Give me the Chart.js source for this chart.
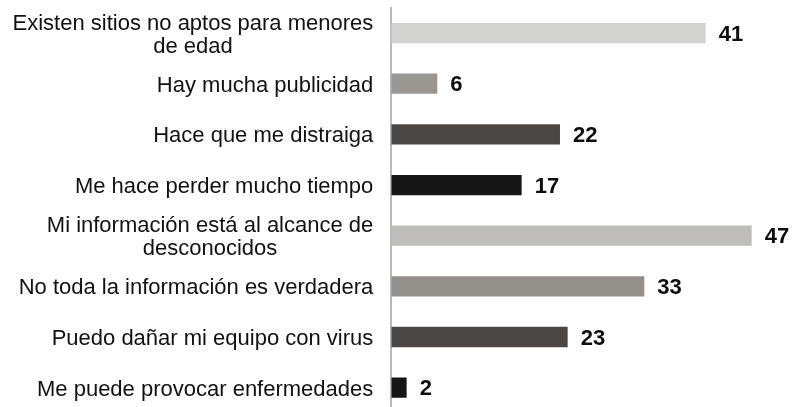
<!DOCTYPE html>
<html>
<head>
<meta charset="utf-8">
<script src="https://cdn.jsdelivr.net/npm/chart.js@4"></script>
<style>
  html, body { margin: 0; padding: 0; background: #fff; overflow: hidden; }
  #wrap { width: 793px; height: 413px; }
</style>
</head>
<body>
<div id="wrap"><canvas id="riesgos"></canvas></div>
<script>
// Data
const categories = [
  ['Existen sitios no aptos para menores', 'de edad'],
  'Hay mucha publicidad',
  'Hace que me distraiga',
  'Me hace perder mucho tiempo',
  ['Mi información está al alcance de', 'desconocidos'],
  'No toda la información es verdadera',
  'Puedo dañar mi equipo con virus',
  'Me puede provocar enfermedades'
];
const values = [41, 6, 22, 17, 47, 33, 23, 2];
const barColors = ['#d2d2d0', '#9a9792', '#4b4744', '#161616', '#bebdb9', '#93908b', '#4b4744', '#161616'];

const FONT = "'Liberation Sans', Arial, sans-serif";

// Draws the category labels (multi-line ones centered inside their block)
// and the bold values at the end of each bar
const labelPlugin = {
  id: 'labelPlugin',
  afterDatasetsDraw(chart) {
    const ctx = chart.ctx;
    const yScale = chart.scales.y;
    const bars = chart.getDatasetMeta(0).data;
    ctx.save();
    ctx.textBaseline = 'middle';

    ctx.font = '22px ' + FONT;
    ctx.fillStyle = '#111';
    ctx.textAlign = 'center';
    categories.forEach((cat, i) => {
      const lines = Array.isArray(cat) ? cat : [cat];
      const widths = lines.map(l => ctx.measureText(l).width);
      const blockW = Math.max(...widths);
      const right = yScale.right - 18;
      const cy = yScale.getPixelForValue(i) + 2;
      const lh = 23;
      lines.forEach((l, j) => {
        const y = cy + (j - (lines.length - 1) / 2) * lh;
        ctx.fillText(l, right - blockW / 2, y);
      });
    });

    ctx.font = 'bold 22px ' + FONT;
    ctx.fillStyle = '#0d0d0d';
    ctx.textAlign = 'left';
    bars.forEach((bar, i) => {
      ctx.fillText(String(values[i]), bar.x + 13, bar.y + 1.5);
    });
    ctx.restore();
  }
};

window.onload = function () {
  new Chart(document.getElementById('riesgos').getContext('2d'), {
    type: 'bar',
    data: {
      labels: categories,
      datasets: [{
        data: values,
        backgroundColor: barColors,
        borderWidth: 0,
        barPercentage: 0.4,
        categoryPercentage: 1
      }]
    },
    options: {
      indexAxis: 'y',
      responsive: true,
      maintainAspectRatio: false,
      animation: false,
      layout: { padding: { top: 7.7, right: 3, bottom: 0, left: 0 } },
      plugins: {
        legend: { display: false },
        tooltip: { enabled: false }
      },
      scales: {
        x: {
          display: false,
          min: 0,
          max: 52
        },
        y: {
          ticks: { display: false },
          grid: { display: false },
          border: { display: true, color: '#b8b8b8', width: 2 },
          afterFit(scale) { scale.width = 391.3; }
        }
      }
    },
    plugins: [labelPlugin]
  });
};
</script>
</body>
</html>
